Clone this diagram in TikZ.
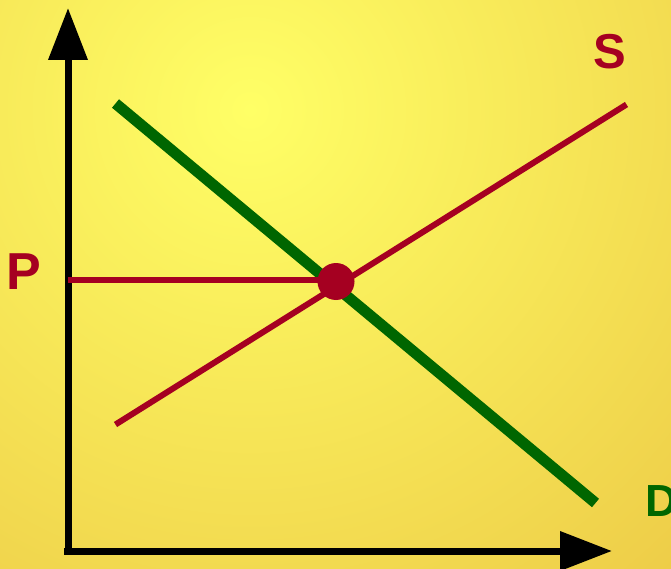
\documentclass[tikz,border=0pt]{standalone}
\usepackage{fontspec}
\setmainfont{Liberation Sans}
\usepackage{tikz}
\usetikzlibrary{arrows.meta}
\definecolor{sunny}{HTML}{FFFF66}
\definecolor{ochre}{HTML}{E0A530}
\definecolor{suppl}{HTML}{A50021}
\definecolor{dmnd}{HTML}{006600}

\begin{document}
\begin{tikzpicture}[x=1pt, y=-1pt,
    axis/.style={line width=7pt, -{Triangle[length=52pt, width=38pt]}},
    curve/.style={line width=#1, line cap=butt},
    lbl/.style={font=\fontsize{#1}{#1}\selectfont\bfseries, inner sep=0pt}]
  % background
  \useasboundingbox (0,0) rectangle (671,569);
  \begin{scope}
    \clip (0,0) rectangle (671,569);
    \shade[inner color=sunny, outer color=ochre] (250,110) circle (1120);
  \end{scope}
  % axes
  \coordinate (ybase) at (68,555);
  \coordinate (ytip) at (68,8);
  \coordinate (xbase) at (64,551);
  \coordinate (xtip) at (612,551);
  \draw[axis] (ybase) -- (ytip);
  \draw[axis] (xbase) -- (xtip);
  % demand and supply
  \coordinate (dtop) at (115.5,103.5);
  \coordinate (dbot) at (595.5,503);
  \coordinate (sbot) at (115.5,424.5);
  \coordinate (stop) at (626.5,104.5);
  \coordinate (eqpt) at (336,281.5);
  \coordinate (pstart) at (68,280);
  \draw[dmnd, curve=11pt] (dtop) -- (dbot);
  \draw[suppl, curve=6pt] (sbot) -- (stop);
  \draw[suppl, curve=6pt] (pstart) -- (pstart -| eqpt);
  \node[circle, fill=suppl, minimum size=37pt, inner sep=0pt] (eq) at (eqpt) {};
  % labels
  \node[lbl=52pt, text=suppl] (plbl) at (24,272) {P};
  \node[lbl=49pt, text=suppl] (slbl) at (610,52) {S};
  \node[lbl=45pt, text=dmnd, anchor=west] (dlbl) at (645,501) {D};
\end{tikzpicture}
\end{document}
